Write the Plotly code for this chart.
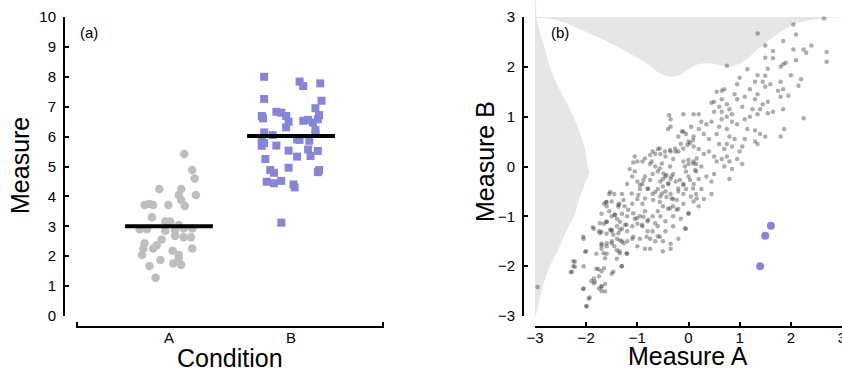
import plotly.graph_objects as go

# ---------------- Panel (a) data ----------------
cond_a_offset = [0.125, 0.19, 0.21, 0.22, -0.08, 0.10, 0.08, 0.10, 0.13, -0.005, -0.20, -0.16, -0.13, -0.14,
                 -0.24, -0.18, -0.03, 0.01, -0.03, 0.05, 0.08, 0.12, 0.05, 0.12, 0.18, 0.19, -0.06, -0.10,
                 -0.13, -0.20, -0.21, -0.22, 0.03, 0.19, 0.08, 0.08, -0.07, 0.035, 0.10, -0.16, -0.11]
cond_a_vals = [5.42, 4.88, 4.60, 4.05, 4.25, 4.25, 4.05, 3.88, 3.68, 3.71, 3.71, 3.75, 3.71, 3.30,
               2.90, 2.90, 3.16, 3.16, 2.85, 2.88, 3.04, 2.93, 2.68, 2.63, 2.63, 2.93, 2.56, 2.37,
               2.26, 2.43, 2.26, 2.04, 2.18, 2.26, 2.04, 1.93, 1.87, 1.76, 1.71, 1.67, 1.28]
cond_b_offset = [-0.22, 0.07, 0.10, 0.24, -0.22, 0.25, 0.20, -0.12, -0.08, 0.23, -0.24, -0.23, -0.04, -0.02,
                 -0.04, 0.10, 0.14, 0.18, 0.22, 0.20, -0.22, -0.15, -0.24, -0.22, -0.24, -0.12, 0.05, 0.07,
                 0.15, 0.20, -0.02, 0.14, 0.22, 0.16, 0.05, -0.21, -0.02, -0.17, -0.14, 0.23, 0.22, -0.20,
                 -0.14, -0.08, 0.02, 0.03, -0.08]
cond_b_vals = [8.00, 7.84, 7.69, 7.78, 7.26, 7.20, 6.95, 6.83, 6.80, 6.72, 6.69, 6.61, 6.69, 6.50,
               6.31, 6.53, 6.56, 6.47, 6.58, 6.22, 6.14, 6.05, 5.89, 5.78, 5.69, 5.70, 5.91, 5.89,
               5.86, 6.09, 5.53, 5.57, 5.52, 5.35, 5.33, 5.25, 4.96, 4.88, 4.79, 4.88, 4.81, 4.49,
               4.44, 4.52, 4.40, 4.30, 3.12]
categories = ["A", "B"]
cat_pos = [1, 2]
cond_means = [3.0, 6.02]
mean_halfwidth = 0.36

# ---------------- Panel (b) data ----------------
meas_a = [2.65, 1.35, 2.05, 2.1, 1.5, 1.85, 2.4, 2.25, 2.3, 2.05, 1.65, 1.65, 2.7, 2.7, 2.1, 1.5, 1.85, 1.9, 1.8,
          0.75, 1.55, 1.15, 2.0, 2.2, 2.15, 1.35, 1.5, 1.0, 1.3, 1.6, 1.8, 1.45, 0.95, 1.5, 1.85, 1.95, 1.8, 1.75,
          2.25, 1.85, 1.87, 1.8, 1.55, 1.65, 1.45, 1.55, 1.35, 1.2, 1.1, 1.3, 1.25, 1.4, 1.35, 1.2, 1.1, 1.05,
          0.95, 0.9, 0.65, 0.55, 0.7, 0.5, 0.45, 0.65, 0.75, 0.6, 0.8, 0.65, 0.5, 0.85, 0.75, 0.95, 0.85, 0.65,
          1.15, 1.3, 1.4, 1.5, 1.3, 1.35, 1.1, 1.05, 0.9, 0.8, 0.75, 0.6, 0.55, 0.75, 0.85, 0.7, 0.6, 0.4, 0.3,
          0.2, 0.45, 0.35, 0.2, 0.1, 0.25, 0.4, 0.5, 0.55, 0.65, 0.75, 0.8, 0.7, 0.85, 0.8, 1.0, 0.95, 1.05,
          0.3, 0.2, 0.1, 0.0, -0.05, -0.1, -0.2, -0.15, -0.25, -0.35, -0.3, -0.45, -0.55, -0.6, -0.7, -0.4,
          -0.35, -0.1, -0.38, -0.35, 0.05, 0.1, 0.1, 0.15, 0.25, 0.0, -0.1, -0.05, 0.0, 0.15, 0.2, 0.1, 0.25,
          0.45, 0.35, 0.5, 0.45, 0.3, 0.15, 0.1, -0.1, -0.2, -0.1, -0.25, -0.3, -0.35, -0.4, -0.45, -0.5,
          -0.55, -0.5, -0.6, -0.45, -0.35, -0.3, -0.55, -0.7, -0.8, -0.9, -1.0, -0.95, -0.85, -0.7, -0.6,
          -0.65, -0.75, -0.9, -1.0, -1.05, -1.15, -1.05, -1.1, -1.2, -1.3, -1.45, -1.5, -1.6, -1.55, -1.7,
          -1.65, -1.55, -1.35, -1.25, -1.1, -1.0, -0.9, -0.85, -0.95, -1.05, -1.2, -1.3, -1.4, -1.5, -1.4,
          -1.3, -1.2, -1.1, -1.0, -0.9, -0.8, -0.7, -0.6, -0.5, -0.4, -0.3, -0.2, -0.55, -0.45, -0.6, -0.7,
          -0.75, -0.65, -0.5, -0.35, -0.2, -0.05, -0.5, -0.35, -0.85, -1.0, -0.95, -1.1, -1.2, -1.3, -1.4,
          -1.5, -1.45, -1.6, -1.7, -1.75, -1.85, -1.6, -1.5, -1.65, -1.2, -1.35, -1.4, -1.3, -1.5, -1.6,
          -1.7, -1.8, -2.05, -2.0, -1.8, -1.7, -1.75, -1.85, -1.9, -1.85, -1.7, -1.75, -1.7, -2.05, -2.25,
          -2.25, -2.3, -2.05, -1.95, -2.0, -2.95, -0.75, -0.8, -0.6, -0.45, -0.3, -0.15, 0.0, -0.1, 0.05,
          -0.05, 0.2, -0.3,
          -1.08, -0.85, -0.75, -0.65, -0.56, -0.46, -0.36, -0.26, -0.20, -0.10, -0.02, 0.03, 0.09, -0.13,
          -0.72, -0.52, -0.56, -0.36, -0.49, -0.43, -0.33, -0.39, -0.17, -0.10, -0.20, 0.03, 0.13, -0.88,
          -0.75, -0.95, -0.79, -0.65, -0.52, -0.43, -0.33, -0.23, -0.56, -0.69, -0.85, -0.98, -1.11, -1.27,
          -1.37, -1.53, -1.60, -1.44, -1.18, -1.08, -1.01, -0.88, -0.79, -0.65, -0.91, -1.21, -1.34, -1.50,
          -1.60, -1.70, -1.08, -0.82, -0.56, -0.07, 0.00, -0.23, -0.36, 0.09, 0.16, 0.16, 0.00, -0.07, 0.09,
          -1.99, -1.93, -2.06, -1.83, -1.70, -1.63, -1.63, -2.28, -2.22, -2.22, -2.02, -2.06, -1.87, -1.76,
          -1.65, -1.66, -1.63, -1.47, -1.31, -1.70, -1.60, -1.50, -1.40, -1.34, -1.27, -1.21, -1.73, -1.53,
          -1.47, -1.34, -1.37, -1.73, -1.60, -1.44, -1.34, -1.24, -1.61, -1.37]
meas_b = [2.97, 2.67, 2.85, 2.65, 2.43, 2.52, 2.43, 2.35, 2.28, 2.35, 2.32, 2.17, 2.3, 2.1, 2.13, 2.18, 2.05, 2.08,
          2.0, 2.02, 1.96, 1.95, 1.83, 1.75, 1.62, 1.83, 1.82, 1.78, 1.7, 1.65, 1.7, 1.7, 1.65, 1.6, 1.55, 1.42,
          1.4, 1.52, 0.97, 1.15, 0.75, 0.6, 1.07, 1.1, 1.25, 1.3, 1.45, 1.55, 1.4, 1.35, 1.15, 1.15, 1.05, 1.0,
          0.95, 1.2, 1.35, 1.45, 1.52, 1.5, 1.55, 1.3, 1.28, 1.35, 1.25, 1.2, 1.15, 1.1, 1.1, 1.05, 1.0, 0.85,
          0.9, 0.95, 0.75, 0.72, 0.65, 0.6, 0.5, 0.45, 0.55, 0.4, 0.55, 0.6, 0.75, 0.8, 0.65, 0.45, 0.4, 0.35,
          0.45, 0.55, 0.65, 0.75, 0.9, 0.85, 1.05, 1.05, 0.9, 0.3, 0.2, 0.1, 0.15, 0.2, 0.1, 0.0, -0.05, -0.25,
          0.3, 0.15, 0.05, 0.25, 0.35, 0.4, 0.5, 0.65, 0.7, 0.6, 0.45, 0.3, 0.3, 0.15, 0.2, 0.25, 0.35, 0.3,
          0.75, 0.8, 1.05, 1.03, 0.95, 0.8, 0.6, 0.1, 0.05, 0.0, 0.05, 0.1, -0.1, -0.2, -0.1, -0.25, -0.35,
          -0.45, -0.3, -0.2, -0.15, -0.55, -0.65, -0.55, -0.7, -0.55, -0.5, -0.35, -0.3, -0.15, -0.25, -0.35,
          -0.2, -0.25, -0.3, -0.4, -0.45, -0.5, -0.55, -0.65, -0.6, -0.55, -0.45, -0.35, -0.3, -0.45, -0.2,
          -0.15, -0.1, 0.0, 0.05, 0.1, 0.1, -0.1, -0.05, 0.2, -0.2, -0.35, -0.55, -0.55, -0.7, -0.8, -0.9,
          -0.95, -0.75, -0.55, -0.75, -0.8, -0.75, -0.65, -0.75, -0.9, -1.0, -1.05, -1.0, -0.95, -1.05, -1.0,
          -1.2, -1.25, -1.3, -1.2, -1.15, -1.2, -1.1, -1.0, -0.9, -0.8, -0.85, -0.8, -0.85, -1.0, -1.1, -1.2,
          -1.3, -1.45, -1.5, -1.5, -1.55, -1.45, -1.25, -1.7, -1.65, -1.65, -1.6, -1.45, -1.45, -1.5, -1.5,
          -1.45, -1.5, -1.6, -1.6, -1.55, -1.3, -1.25, -1.35, -1.3, -1.15, -1.75, -1.7, -1.85, -2.0, -2.15,
          -1.75, -1.65, -1.75, -1.45, -1.7, -2.05, -2.1, -2.2, -2.25, -2.3, -2.35, -2.4, -2.45, -2.5, -2.0,
          -1.9, -2.0, -2.12, -2.45, -2.65, -2.8, -2.42, -1.65, -1.3, -1.4, -1.3, -1.2, -1.05, -0.95, -0.75,
          -0.6, -0.45, -0.8, -1.0,
          0.08, 0.16, 0.23, 0.25, 0.36, 0.30, 0.33, 0.36, 0.30, 0.36, 0.43, 0.47, 0.53, 0.70,
          0.10, 0.06, -0.04, 0.00, -0.14, -0.17, -0.20, -0.34, -0.27, -0.37, -0.44, -0.27, -0.07, -0.27,
          -0.27, -0.37, -0.44, -0.51, -0.54, -0.61, -0.64, -0.67, -0.71, -0.67, -0.64, -0.57, -0.54, -0.67,
          -0.77, -0.51, -0.71, -0.97, -0.87, -0.94, -1.04, -1.01, -1.07, -1.14, -1.17, -1.17, -1.27, -1.27,
          -1.11, -1.31, -1.41, -1.41, -1.41, -1.24, -0.94, -0.87, -0.84, -0.44, -0.64, 0.16, 0.13, 0.00, 0.06,
          -2.81, -2.63, -2.46, -2.31, -2.42, -2.51, -2.36, -2.11, -1.91, -2.01, -1.71, -1.41, -1.22, -2.06,
          -2.04, -1.74, -1.84, -2.11, -2.00, -1.58, -1.54, -1.54, -1.68, -1.74, -1.54, -1.74, -1.34, -1.27,
          -1.37, -1.48, -1.34, -1.14, -1.11, -0.97, -1.11, -1.17, -0.71, -0.81]
outlier_a = [1.61, 1.50, 1.40]
outlier_b = [-1.19, -1.39, -2.00]

# marginal densities (shapes)
dens_a_x = [-3.0, -2.58, -1.93, -1.27, -0.82, -0.56, -0.36, -0.17, 0.03, 0.22, 0.42, 0.68, 0.81, 1.07, 1.33,
            1.66, 1.98, 2.31, 2.63, 3.0]
dens_a_y = [2.99, 2.94, 2.67, 2.34, 2.07, 1.87, 1.80, 1.84, 1.97, 2.06, 2.07, 2.02, 2.00, 2.10, 2.34,
            2.60, 2.81, 2.93, 2.97, 3.0]
dens_b_y = [3.34, 3.0, 2.67, 2.34, 2.0, 1.66, 1.33, 1.0, 0.67, 0.33, 0.0, -0.13, -0.33, -0.67, -1.0,
            -1.33, -1.67, -2.0, -2.34, -2.67, -3.0]
dens_b_x = [-2.99, -2.97, -2.90, -2.80, -2.71, -2.58, -2.41, -2.25, -2.12, -2.02, -1.97, -1.94, -2.02, -2.14,
            -2.24, -2.40, -2.55, -2.71, -2.83, -2.91, -2.99]

a_ticks = list(range(0, 11))
b_ticks = [-3, -2, -1, 0, 1, 2, 3]

# ---------------- layout helpers ----------------
W, H = 842, 370
def px(x):
    return x / W
def py(y):
    return 1 - y / H

FONT = "Liberation Sans, Arial, sans-serif"
GRAY_A = "#bebebe"
BLUE = "#8686d6"
DENS = "#e6e6e6"

fig = go.Figure()

# Panel (a)
fig.add_trace(go.Scatter(x=[cat_pos[0] + o for o in cond_a_offset], y=cond_a_vals, mode="markers",
                         marker=dict(color=GRAY_A, size=8.5, symbol="circle", line=dict(width=0)),
                         xaxis="x", yaxis="y", showlegend=False, hoverinfo="skip"))
fig.add_trace(go.Scatter(x=[cat_pos[1] + o for o in cond_b_offset], y=cond_b_vals, mode="markers",
                         marker=dict(color=BLUE, size=8, symbol="square", line=dict(width=0)),
                         xaxis="x", yaxis="y", showlegend=False, hoverinfo="skip"))
for p, m in zip(cat_pos, cond_means):
    fig.add_trace(go.Scatter(x=[p - mean_halfwidth, p + mean_halfwidth], y=[m, m], mode="lines",
                             line=dict(color="black", width=4), xaxis="x", yaxis="y",
                             showlegend=False, hoverinfo="skip"))

# Panel (b)
fig.add_trace(go.Scatter(x=[-3] + dens_a_x + [3], y=[3] + dens_a_y + [3], mode="lines", fill="toself",
                         fillcolor=DENS, line=dict(width=0, color=DENS, shape="spline"),
                         xaxis="x3", yaxis="y3", showlegend=False, hoverinfo="skip"))
fig.add_trace(go.Scatter(x=[-3] + dens_b_x + [-3], y=[3.34] + dens_b_y + [-3], mode="lines", fill="toself",
                         fillcolor=DENS, line=dict(width=0, color=DENS, shape="spline"),
                         xaxis="x3", yaxis="y3", showlegend=False, hoverinfo="skip"))
fig.add_trace(go.Scatter(x=meas_a, y=meas_b, mode="markers",
                         marker=dict(color="rgba(50,50,50,0.40)", size=4.5, line=dict(width=0)),
                         xaxis="x3", yaxis="y3", showlegend=False, hoverinfo="skip"))
fig.add_trace(go.Scatter(x=outlier_a, y=outlier_b, mode="markers",
                         marker=dict(color=BLUE, size=8, line=dict(width=0)),
                         xaxis="x3", yaxis="y3", showlegend=False, hoverinfo="skip"))
# empty trace to host the panel (b) y spine axis
fig.add_trace(go.Scatter(x=[], y=[], xaxis="x3", yaxis="y4", showlegend=False, hoverinfo="skip"))

tickfont = dict(family=FONT, size=15, color="black")
a_lo, a_hi = 0.238, 2.762

common = dict(showgrid=False, zeroline=False, automargin=False, fixedrange=True,
              ticklabeloverflow="allow")

fig.update_layout(
    template="none",
    width=W, height=H, margin=dict(l=0, r=0, t=0, b=0, pad=0, autoexpand=False),
    paper_bgcolor="white", plot_bgcolor="rgba(0,0,0,0)",
    font=dict(family=FONT, color="black"),
    xaxis=dict(domain=[px(76), px(384)], range=[a_lo, a_hi], anchor="free", position=py(327),
               showline=True, linecolor="black", linewidth=2,
               tickmode="array", tickvals=cat_pos, ticktext=categories, ticks="", tickfont=tickfont,
               ticklabelstandoff=-3,
               minor=dict(tickvals=[a_lo + 0.01, a_hi - 0.01], ticks="inside", ticklen=4, tickwidth=2,
                          tickcolor="black", showgrid=False),
               **common),
    yaxis=dict(domain=[py(316), py(17)], range=[0, 10], anchor="free", position=px(64),
               showline=True, linecolor="black", linewidth=2,
               tickmode="array", tickvals=a_ticks, ticks="inside", ticklen=4, tickwidth=2,
               tickcolor="black", tickfont=tickfont, ticklabelstandoff=4, **common),
    xaxis3=dict(domain=[px(535), 1.0], range=[-3, 3], anchor="free", position=py(327),
                showline=True, linecolor="black", linewidth=2,
                tickmode="array", tickvals=b_ticks, ticks="inside", ticklen=4, tickwidth=2,
                tickcolor="black", tickfont=tickfont, ticklabelstandoff=-3, **common),
    yaxis3=dict(domain=[py(316), 1.0], range=[-3, 3.341], anchor="x3", showline=False,
                showticklabels=False, ticks="", **common),
    yaxis4=dict(domain=[py(316), py(17)], range=[-3, 3], anchor="free", position=px(523),
                showline=True, linecolor="black", linewidth=2,
                tickmode="array", tickvals=b_ticks, ticks="inside", ticklen=4, tickwidth=2,
                tickcolor="black", tickfont=tickfont, ticklabelstandoff=4, **common),
    annotations=[
        dict(text="(a)", x=px(89), y=py(32), xref="paper", yref="paper", showarrow=False,
             font=dict(family=FONT, size=15), xanchor="center", yanchor="middle"),
        dict(text="(b)", x=px(560), y=py(33), xref="paper", yref="paper", showarrow=False,
             font=dict(family=FONT, size=15), xanchor="center", yanchor="middle"),
        dict(text="Measure", x=px(20), y=py(166), xref="paper", yref="paper", showarrow=False,
             textangle=-90, font=dict(family=FONT, size=25), xanchor="center", yanchor="middle"),
        dict(text="Condition", x=px(230), y=py(358), xref="paper", yref="paper", showarrow=False,
             font=dict(family=FONT, size=25), xanchor="center", yanchor="middle"),
        dict(text="Measure B", x=px(485), y=py(162), xref="paper", yref="paper", showarrow=False,
             textangle=-90, font=dict(family=FONT, size=25), xanchor="center", yanchor="middle"),
        dict(text="Measure A", x=px(688), y=py(356), xref="paper", yref="paper", showarrow=False,
             font=dict(family=FONT, size=25), xanchor="center", yanchor="middle"),
    ],
)

fig.write_html("out.html")
